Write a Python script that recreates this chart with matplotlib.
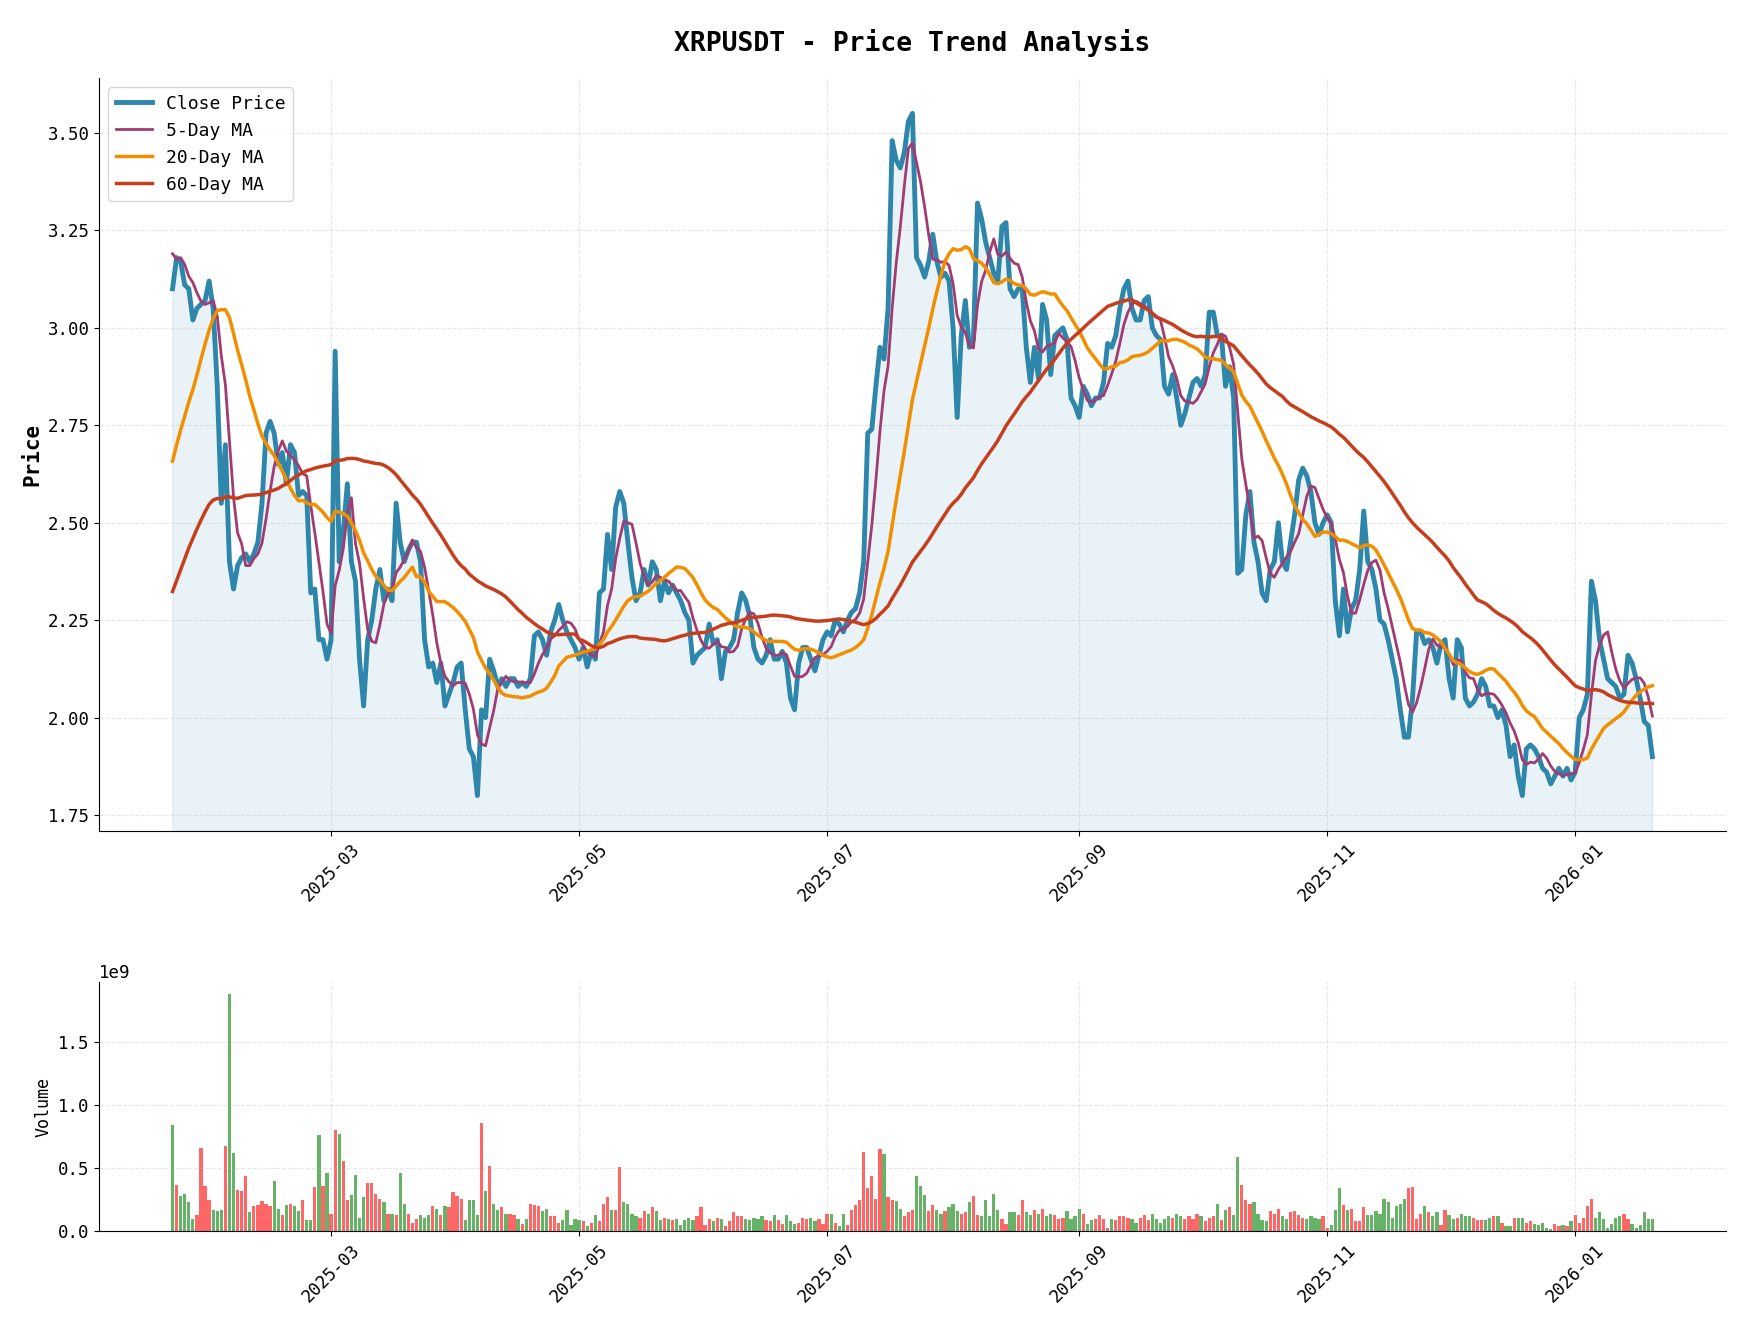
import matplotlib
matplotlib.use("Agg")
import matplotlib.pyplot as plt
import matplotlib.dates as mdates
import numpy as np
import pandas as pd

plt.rcParams["font.family"] = ["DejaVu Sans Mono", "DejaVu Sans"]

# history before the shown window (only used to warm up the moving averages)
close_hist = [1.45, 1.50, 1.50, 1.45, 1.40, 1.55, 1.60, 1.70, 1.80,
              1.95, 2.40, 2.60, 2.70, 2.30, 2.40, 2.50, 2.45, 2.20, 2.20, 2.35, 2.40, 2.40, 2.45, 2.50, 2.55,
              2.55, 2.40, 2.30, 2.25, 2.20, 2.20, 2.20, 2.25, 2.25, 2.15, 2.10, 2.05, 2.05, 2.05, 2.05,
              2.35, 2.35, 2.40, 2.40, 2.38, 2.38, 2.30, 2.25, 2.30, 2.40, 2.45, 2.45, 2.50, 2.70, 2.80,
              3.15, 3.25, 3.15, 3.20, 3.25]

close_jan25 = [3.10, 3.18, 3.17, 3.11, 3.10, 3.02, 3.05, 3.06, 3.07, 3.12, 3.05]
close_feb25 = [2.85, 2.55, 2.70, 2.40, 2.33, 2.39, 2.41, 2.42, 2.40, 2.42, 2.45, 2.55, 2.73, 2.76,
               2.73, 2.65, 2.68, 2.60, 2.70, 2.68, 2.57, 2.58, 2.57, 2.32, 2.33, 2.20, 2.20, 2.15]
close_mar25 = [2.20, 2.94, 2.40, 2.48, 2.60, 2.40, 2.35, 2.15, 2.03, 2.20, 2.25, 2.33, 2.38, 2.30, 2.33,
               2.30, 2.55, 2.45, 2.40, 2.43, 2.45, 2.45, 2.40, 2.20, 2.13, 2.14, 2.09, 2.14, 2.03, 2.06, 2.09]
close_apr25 = [2.13, 2.14, 2.02, 1.92, 1.90, 1.80, 2.02, 2.00, 2.15, 2.12, 2.08, 2.10, 2.08, 2.10, 2.10,
               2.08, 2.09, 2.08, 2.10, 2.21, 2.22, 2.20, 2.16, 2.22, 2.25, 2.29, 2.25, 2.22, 2.20, 2.18]
close_may25 = [2.15, 2.18, 2.13, 2.17, 2.15, 2.32, 2.33, 2.47, 2.38, 2.54, 2.58, 2.55, 2.45, 2.36, 2.30,
               2.32, 2.38, 2.34, 2.40, 2.38, 2.30, 2.35, 2.32, 2.34, 2.32, 2.30, 2.27, 2.25, 2.14, 2.16, 2.17]
close_jun25 = [2.18, 2.24, 2.19, 2.20, 2.10, 2.17, 2.18, 2.20, 2.27, 2.32, 2.30, 2.26, 2.18, 2.15, 2.14,
               2.16, 2.20, 2.15, 2.15, 2.17, 2.14, 2.05, 2.02, 2.14, 2.18, 2.18, 2.15, 2.12, 2.16, 2.20]
close_jul25 = [2.22, 2.21, 2.25, 2.24, 2.22, 2.25, 2.27, 2.28, 2.32, 2.40, 2.73, 2.74, 2.85, 2.95, 2.92,
               3.05, 3.48, 3.43, 3.41, 3.45, 3.53, 3.55, 3.18, 3.16, 3.13, 3.17, 3.24, 3.17, 3.13, 3.14, 3.12]
close_aug25 = [3.00, 2.77, 2.98, 3.07, 2.95, 2.97, 3.32, 3.28, 3.22, 3.18, 3.14, 3.12, 3.26, 3.27, 3.10,
               3.08, 3.10, 3.10, 2.95, 2.86, 2.95, 2.87, 3.06, 3.02, 2.88, 2.98, 2.99, 3.00, 2.97, 2.82, 2.80]
close_sep25 = [2.77, 2.85, 2.83, 2.80, 2.82, 2.82, 2.86, 2.96, 2.95, 2.98, 3.05, 3.10, 3.12, 3.05, 3.02,
               3.02, 3.07, 3.08, 3.00, 2.98, 2.97, 2.85, 2.83, 2.88, 2.82, 2.75, 2.78, 2.82, 2.86, 2.87]
close_oct25 = [2.85, 2.88, 3.04, 3.04, 2.98, 2.98, 2.85, 2.90, 2.82, 2.37, 2.38, 2.52, 2.58, 2.45, 2.40,
               2.32, 2.30, 2.38, 2.40, 2.50, 2.40, 2.38, 2.45, 2.52, 2.61, 2.64, 2.62, 2.58, 2.50, 2.47, 2.50]
close_nov25 = [2.52, 2.50, 2.30, 2.21, 2.33, 2.22, 2.28, 2.30, 2.38, 2.53, 2.40, 2.38, 2.33, 2.25, 2.24,
               2.20, 2.15, 2.10, 2.02, 1.95, 1.95, 2.05, 2.22, 2.22, 2.19, 2.20, 2.18, 2.14, 2.19, 2.20]
close_dec25 = [2.10, 2.05, 2.20, 2.18, 2.05, 2.03, 2.04, 2.06, 2.10, 2.08, 2.03, 2.03, 2.00, 2.02, 1.98,
               1.90, 1.93, 1.85, 1.80, 1.92, 1.93, 1.92, 1.90, 1.87, 1.86, 1.83, 1.85, 1.87, 1.85, 1.87, 1.84]
close_jan26 = [1.86, 2.00, 2.02, 2.06, 2.35, 2.30, 2.20, 2.15, 2.10, 2.09, 2.08, 2.05, 2.06, 2.16, 2.14,
               2.10, 2.05, 1.99, 1.98, 1.90]

# volume in units of 1e8
vol_jan25 = [8.4, 3.7, 2.8, 3.0, 2.3, 1.0, 1.3, 6.6, 3.6, 2.5, 1.7]
vol_feb25 = [1.6, 1.7, 6.8, 18.8, 6.2, 3.3, 3.2, 4.4, 1.5, 2.0, 2.1, 2.4, 2.2, 2.0, 4.0, 1.8, 1.3, 2.1,
             2.2, 2.0, 1.6, 2.5, 0.9, 0.9, 3.5, 7.6, 3.6, 4.6]
vol_mar25 = [1.4, 8.0, 7.7, 5.6, 2.5, 2.9, 4.5, 1.1, 2.7, 3.8, 3.8, 3.0, 2.6, 2.3, 1.4, 1.4, 1.3, 4.6,
             2.2, 1.4, 0.7, 1.0, 1.3, 1.1, 1.3, 2.0, 1.8, 1.3, 2.0, 1.9, 3.1]
vol_apr25 = [2.8, 2.6, 0.9, 2.5, 2.5, 1.3, 8.6, 3.2, 5.2, 2.2, 1.7, 1.9, 1.4, 1.4, 1.3, 1.0, 0.6, 1.0,
             2.2, 2.1, 2.0, 1.6, 1.8, 1.2, 1.2, 0.7, 0.9, 1.7, 0.5, 1.0]
vol_may25 = [0.9, 0.8, 0.4, 0.7, 1.3, 0.8, 2.2, 2.7, 1.7, 1.7, 5.1, 2.3, 2.2, 1.4, 1.2, 1.1, 1.6, 1.4,
             1.9, 1.6, 0.9, 1.1, 1.0, 0.9, 1.0, 0.5, 0.9, 1.1, 0.9, 1.2, 1.9]
vol_jun25 = [0.5, 1.0, 0.8, 1.1, 1.0, 0.4, 0.8, 1.5, 1.2, 1.2, 1.0, 0.9, 1.1, 1.0, 1.2, 0.9, 0.8, 1.3,
             0.9, 0.6, 1.3, 0.8, 0.6, 0.7, 1.1, 1.0, 1.1, 0.8, 1.0, 0.6]
vol_jul25 = [1.4, 1.4, 0.7, 0.4, 1.4, 0.5, 1.7, 2.1, 2.5, 6.3, 3.4, 4.4, 2.6, 6.5, 6.1, 2.7, 2.5, 2.4,
             1.8, 1.2, 1.5, 1.7, 4.4, 3.6, 2.9, 1.6, 2.1, 1.7, 1.4, 1.6, 1.9]
vol_aug25 = [2.2, 1.6, 1.4, 1.5, 2.3, 2.8, 1.3, 1.2, 2.5, 1.2, 3.0, 1.7, 1.0, 0.6, 1.5, 1.5, 1.3, 2.5,
             1.5, 1.3, 1.7, 1.4, 1.8, 1.2, 1.4, 1.3, 1.0, 1.1, 1.6, 1.0, 1.2]
vol_sep25 = [1.8, 1.4, 0.6, 0.9, 1.0, 1.3, 1.0, 0.3, 1.0, 0.9, 1.2, 1.2, 1.1, 1.0, 0.7, 1.1, 1.3, 0.9,
             1.4, 1.0, 0.7, 1.0, 1.2, 1.1, 1.4, 1.2, 1.0, 1.2, 1.0, 1.4]
vol_oct25 = [1.2, 0.8, 1.1, 1.2, 2.2, 0.9, 1.7, 1.9, 1.3, 5.9, 3.7, 2.5, 2.2, 2.3, 1.4, 0.9, 0.8, 1.6,
             1.4, 1.8, 1.2, 1.0, 1.5, 1.6, 1.3, 1.1, 1.0, 1.2, 1.1, 1.0, 1.2]
vol_nov25 = [0.3, 0.5, 1.7, 3.4, 2.1, 1.7, 1.8, 0.8, 0.8, 1.9, 1.3, 1.3, 1.6, 1.4, 2.6, 2.3, 1.1, 2.0,
             2.2, 2.6, 3.4, 3.5, 1.0, 1.4, 2.0, 1.5, 1.2, 1.5, 0.5, 1.7]
vol_dec25 = [1.3, 1.0, 1.1, 1.4, 1.2, 1.2, 1.1, 0.9, 0.9, 0.9, 1.1, 1.2, 1.2, 0.7, 0.4, 0.4, 1.1, 1.1,
             1.1, 0.7, 0.8, 0.6, 0.5, 0.7, 0.3, 0.2, 0.6, 0.4, 0.5, 0.4, 0.8]
vol_jan26 = [1.3, 0.7, 1.1, 2.0, 2.6, 1.1, 1.5, 1.0, 0.3, 0.6, 1.1, 1.2, 1.4, 1.0, 0.6, 0.3, 0.5, 1.5,
             1.0, 1.0]

START = "2025-01-21"


def main():
    shown = (close_jan25 + close_feb25 + close_mar25 + close_apr25 + close_may25 + close_jun25
             + close_jul25 + close_aug25 + close_sep25 + close_oct25 + close_nov25 + close_dec25
             + close_jan26)
    vols = (vol_jan25 + vol_feb25 + vol_mar25 + vol_apr25 + vol_may25 + vol_jun25 + vol_jul25
            + vol_aug25 + vol_sep25 + vol_oct25 + vol_nov25 + vol_dec25 + vol_jan26)
    assert len(shown) == len(vols), (len(shown), len(vols))

    n_hist = len(close_hist)
    dates_all = pd.date_range(end=pd.Timestamp(START) + pd.Timedelta(days=len(shown) - 1),
                              periods=n_hist + len(shown), freq="D")
    s = pd.Series(close_hist + shown, index=dates_all)
    ma5 = s.rolling(5).mean().iloc[n_hist:]
    ma20 = s.rolling(20).mean().iloc[n_hist:]
    ma60 = s.rolling(60).mean().iloc[n_hist:]
    close = s.iloc[n_hist:]
    dates = close.index
    volume = np.array(vols) * 1e8
    prev = s.shift(1).iloc[n_hist:]
    colors = np.where(close.values >= prev.values, "red", "green")

    fig = plt.figure(figsize=(17.43, 13.27), dpi=100)
    ax1 = fig.add_axes([0.057, 0.374, 0.933, 0.567])
    ax2 = fig.add_axes([0.057, 0.072, 0.933, 0.188])

    ax1.plot(dates, close, color="#2E86AB", lw=3.5, label="Close Price")
    ax1.plot(dates, ma5, color="#A23B72", lw=2, label="5-Day MA")
    ax1.plot(dates, ma20, color="#F18F01", lw=2.5, label="20-Day MA")
    ax1.plot(dates, ma60, color="#C73E1D", lw=2.5, label="60-Day MA")
    ax1.set_ylim(1.71, 3.64)
    ax1.fill_between(dates, close, 1.71, color="#2E86AB", alpha=0.1)
    ax1.set_ylabel("Price", fontsize=15, fontweight="bold")
    ax1.set_title("XRPUSDT - Price Trend Analysis", fontsize=19, fontweight="bold", pad=20)
    ax1.legend(loc="upper left", fontsize=13)
    ax1.grid(True, linestyle="--", alpha=0.3)

    ax2.bar(dates, volume, color=colors, alpha=0.6, width=0.8)
    ax2.set_ylabel("Volume", fontsize=12)
    ax2.grid(True, linestyle="--", alpha=0.3)

    for ax in (ax1, ax2):
        ax.set_xlim(dates[0] - pd.Timedelta(days=18), dates[-1] + pd.Timedelta(days=18))
        ax.xaxis.set_major_locator(mdates.MonthLocator(bymonth=[1, 3, 5, 7, 9, 11]))
        ax.xaxis.set_major_formatter(mdates.DateFormatter("%Y-%m"))
        ax.tick_params(axis="both", labelsize=12.5)
        for lab in ax.get_xticklabels():
            lab.set_rotation(45)
        ax.spines["top"].set_visible(False)
        ax.spines["right"].set_visible(False)
    ax2.yaxis.get_offset_text().set_fontsize(12.5)

    fig.savefig("out.png", dpi=100)
    plt.close(fig)


if __name__ == "__main__":
    main()
